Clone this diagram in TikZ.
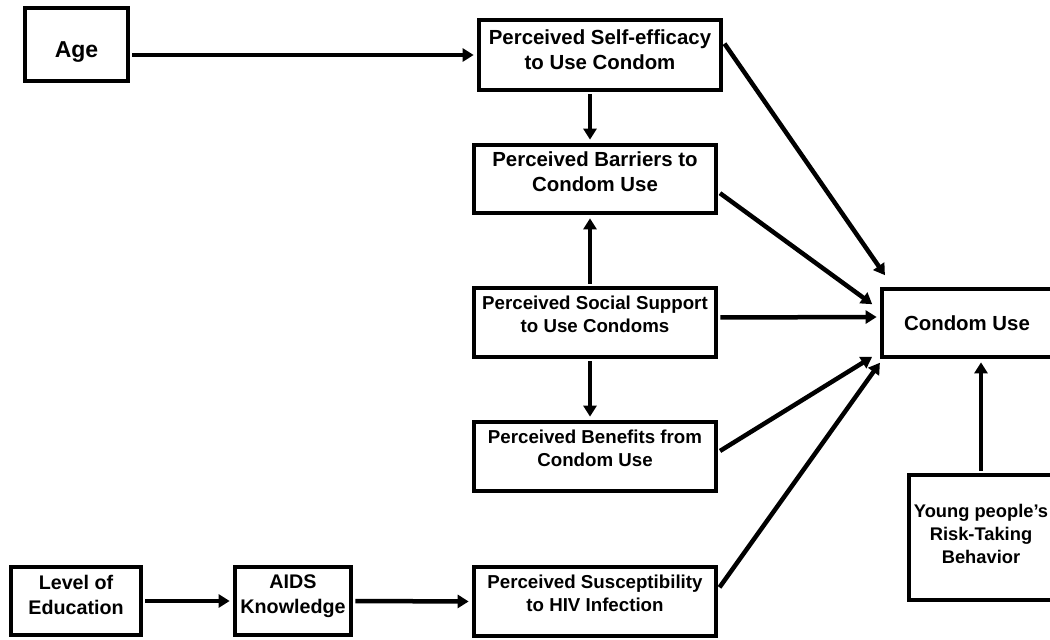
\documentclass[tikz,border=0pt]{standalone}
\usepackage{fontspec}
\setmainfont{Liberation Sans}
\usepackage{tikz}
\usetikzlibrary{calc,positioning,arrows.meta}

\tikzset{
    box/.style={draw, line width=4.7pt, align=center, inner sep=2pt,
        font=\bfseries\fontsize{20.4}{25}\selectfont},
    midbox/.style={box, minimum width=242pt, minimum height=69pt, text depth=16pt,
        font=\bfseries\fontsize{18.7}{23}\selectfont},
    arr/.style={line width=4.5pt, -{Triangle[length=11pt,width=13pt]},
        shorten <=2pt, shorten >=3pt}
}

\begin{document}
\begin{tikzpicture}[x=1pt,y=1pt]
    \useasboundingbox (0,0) rectangle (1050,640);
    \node[
        box,
        minimum width=103pt,
        minimum height=73pt,
        text height=31pt,
        font=\bfseries\fontsize{23}{27}\selectfont
    ] (age) at (76.5,595.5) {Age};
    \node[box, minimum width=242pt, minimum height=70pt, text depth=11pt]
        (eff) at (600,585) {Perceived Self-efficacy\\to Use Condom};
    \node[box, minimum width=242pt, minimum height=68pt, text depth=15pt]
        (barr) at (595,461) {Perceived Barriers to\\Condom Use};
    \node[midbox] (soc) at (595,317.5) {Perceived Social Support\\to Use Condoms};
    \node[midbox, text depth=17pt] (bene) at (595,183.5) {Perceived Benefits from\\Condom Use};
    \node[midbox, text depth=17pt] (susc) at (595,38.5) {Perceived Susceptibility\\to HIV Infection};
    \node[
        box,
        minimum width=130pt,
        minimum height=68pt,
        text depth=13pt,
        font=\bfseries\fontsize{19.7}{25}\selectfont
    ] (edu) at (76,39) {Level of\\Education};
    \node[
        box,
        minimum width=116pt,
        minimum height=68pt,
        text depth=13pt,
        font=\bfseries\fontsize{19.7}{25}\selectfont
    ] (aids) at (293,39) {AIDS\\Knowledge};
    \node[box, minimum width=170pt, minimum height=68pt] (cu) at (967,317) {Condom Use};
    \node[
        box,
        minimum width=144pt,
        minimum height=125pt,
        text depth=7pt,
        font=\bfseries\fontsize{18.3}{23}\selectfont
    ] (young) at (981,102.5) {Young people's\\Risk-Taking\\Behavior};

    \draw[arr] (age.east |- eff.west) -- (eff.west);
    \draw[arr] ($(eff.south)+(-10,0)$) -- ($(barr.north)+(-5,0)$);
    \draw[arr] ($(soc.north)+(-5,0)$) -- ($(barr.south)+(-5,0)$);
    \draw[arr] ($(soc.south)+(-5,0)$) -- ($(bene.north)+(-5,0)$);
    \draw[arr] (edu.east) -- (aids.west);
    \draw[arr] (aids.west -| aids.east) -- (susc.west);
    \draw[arr] ($(eff.east)+(0,13)$) -- ($(cu.north west)+(7,9)$);
    \draw[arr] ($(barr.east)+(0,-13)$) -- ($(cu.west)+(-5,17)$);
    \draw[arr] ($(soc.east)+(0,5)$) -- ($(cu.west)+(0,6)$);
    \draw[arr] ($(bene.east)+(0,4.5)$) -- ($(cu.south west)+(-5,4)$);
    \draw[arr] ($(susc.east)+(0,12.5)$) -- ($(cu.south west)+(2,-1)$);
    \draw[arr] (young.north) -- (young.north |- cu.south);
\end{tikzpicture}
\end{document}
